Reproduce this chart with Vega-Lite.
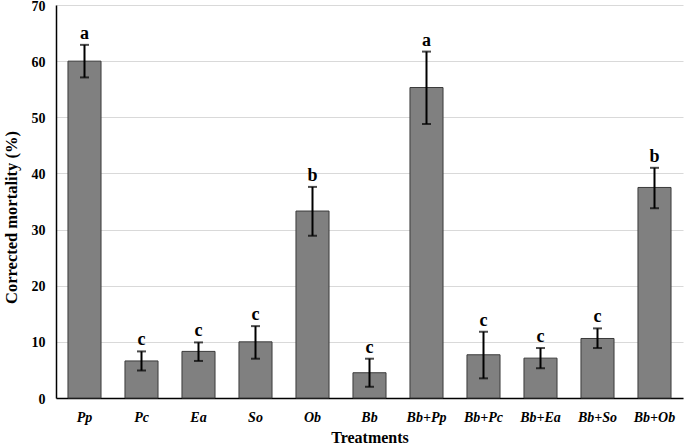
{
  "$schema": "https://vega.github.io/schema/vega-lite/v6.json",
  "autosize": {"type": "none"},
  "width": 627,
  "height": 393,
  "padding": {"left": 56, "top": 5, "right": 2, "bottom": 47},
  "background": "white",
  "view": {"stroke": null, "fill": null},
  "config": {
    "view": {"stroke": null, "strokeWidth": 0},
    "font": "Liberation Serif",
    "axisRight": {"disable": true},
    "axisY": {
      "orient": "left",
      "titleFont": "Liberation Serif",
      "titleFontSize": 16.5,
      "titleFontWeight": "bold",
      "titleColor": "black",
      "titlePadding": 12,
      "titleY": 212,
      "labelFont": "Liberation Serif",
      "labelFontSize": 14,
      "labelFontWeight": "bold",
      "labelColor": "black",
      "labelPadding": 11,
      "labelOffset": 1,
      "labelOverlap": false,
      "ticks": false,
      "tickCount": 7,
      "domainColor": "black",
      "domainWidth": 1.5,
      "grid": true,
      "gridColor": "#d9d9d9",
      "gridWidth": 1
    }
  },
  "data": {
    "values": [
      {"treatment": "Pp", "mean": 60.0, "lo": 57.1, "hi": 62.9, "group": "a"},
      {"treatment": "Pc", "mean": 6.6, "lo": 4.9, "hi": 8.3, "group": "c"},
      {"treatment": "Ea", "mean": 8.3, "lo": 6.6, "hi": 9.9, "group": "c"},
      {"treatment": "So", "mean": 10.0, "lo": 7.0, "hi": 12.8, "group": "c"},
      {"treatment": "Ob", "mean": 33.3, "lo": 28.9, "hi": 37.6, "group": "b"},
      {"treatment": "Bb", "mean": 4.5, "lo": 2.0, "hi": 7.0, "group": "c"},
      {"treatment": "Bb+Pp", "mean": 55.3, "lo": 48.8, "hi": 61.7, "group": "a"},
      {"treatment": "Bb+Pc", "mean": 7.7, "lo": 3.5, "hi": 11.8, "group": "c"},
      {"treatment": "Bb+Ea", "mean": 7.1, "lo": 5.3, "hi": 8.9, "group": "c"},
      {"treatment": "Bb+So", "mean": 10.6, "lo": 8.9, "hi": 12.4, "group": "c"},
      {"treatment": "Bb+Ob", "mean": 37.5, "lo": 33.8, "hi": 41.0, "group": "b"}
    ]
  },
  "encoding": {
    "x": {
      "field": "treatment",
      "type": "nominal",
      "sort": null,
      "scale": {"paddingInner": 0.42, "paddingOuter": 0.21},
      "axis": {
        "title": "Treatments",
        "titleFont": "Liberation Serif",
        "titleFontSize": 16,
        "titleFontWeight": "bold",
        "titleColor": "black",
        "titlePadding": 5,
        "labelFont": "Liberation Serif",
        "labelFontSize": 14,
        "labelFontWeight": "bold",
        "labelFontStyle": "italic",
        "labelColor": "black",
        "labelAngle": 0,
        "labelPadding": 12,
        "ticks": false,
        "domainColor": "black",
        "domainWidth": 1.5,
        "grid": false
      }
    }
  },
  "layer": [
    {
      "mark": {"type": "bar", "color": "#808080", "stroke": "#3a3a3a", "strokeWidth": 1},
      "encoding": {
        "y": {
          "field": "mean",
          "type": "quantitative",
          "title": "Corrected mortality (%)",
          "scale": {"domain": [0, 70], "nice": false}
        }
      }
    },
    {
      "mark": {"type": "rule", "color": "black", "strokeWidth": 2},
      "encoding": {
        "y": {"field": "lo", "type": "quantitative", "title": "Corrected mortality (%)"},
        "y2": {"field": "hi"}
      }
    },
    {
      "mark": {"type": "tick", "color": "black", "thickness": 2, "size": 9},
      "encoding": {"y": {"field": "lo", "type": "quantitative", "title": "Corrected mortality (%)"}}
    },
    {
      "mark": {"type": "tick", "color": "black", "thickness": 2, "size": 9},
      "encoding": {"y": {"field": "hi", "type": "quantitative", "title": "Corrected mortality (%)"}}
    },
    {
      "mark": {"type": "text", "font": "Liberation Serif", "fontSize": 18, "fontWeight": "bold", "baseline": "bottom", "dy": -2, "color": "black"},
      "encoding": {
        "y": {"field": "hi", "type": "quantitative", "title": "Corrected mortality (%)"},
        "text": {"field": "group"}
      }
    }
  ]
}
